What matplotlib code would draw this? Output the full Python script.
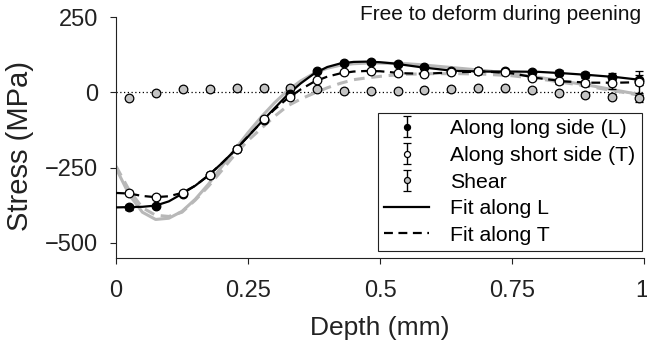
import matplotlib
matplotlib.use("Agg")
import matplotlib.pyplot as plt
from matplotlib.transforms import ScaledTranslation

plt.rcParams['font.family'] = ['Liberation Sans', 'DejaVu Sans']

# measurement depths (mm), 0.002 in steps
depth = [0.0254, 0.0762, 0.127, 0.1778, 0.2286, 0.2794, 0.3302, 0.381, 0.4318, 0.4826,
         0.5334, 0.5842, 0.635, 0.6858, 0.7366, 0.7874, 0.8382, 0.889, 0.9398, 0.9906]

stress_L = [-381, -376, -337, -273, -187, -91, -5, 71, 99, 101,
            95, 83, 71, 70, 70, 69, 65, 58, 52, 42]
err_L = [8, 5, 4, 4, 4, 4, 4, 4, 5, 5, 5, 5, 5, 5, 5, 6, 8, 9, 12, 16]

stress_T = [-334, -349, -334, -273, -187, -90, -14, 40, 67, 70,
            65, 62, 69, 70, 66, 47, 36, 32, 32, 34]
err_T = [5, 5, 5, 4, 4, 4, 4, 4, 4, 4, 4, 4, 4, 4, 5, 6, 8, 10, 22, 36]

shear = [-18, -1, 10, 12, 13, 16, 16, 10, 5, 4,
         6, 8, 10, 15, 15, 8, -2, -10, -14, -20]
err_S = [4, 4, 4, 4, 4, 4, 4, 4, 4, 4, 4, 4, 4, 4, 4, 5, 6, 7, 9, 12]

# fitted profiles
fit_x = [0, 0.025, 0.05, 0.075, 0.1, 0.125, 0.15, 0.175, 0.2, 0.225, 0.25, 0.275,
         0.3, 0.325, 0.35, 0.375, 0.4, 0.425, 0.45, 0.475, 0.5, 0.525, 0.55, 0.575,
         0.6, 0.625, 0.65, 0.7, 0.75, 0.8, 0.85, 0.9, 0.95, 1.0]
fit_L = [-382, -381, -380, -376, -362, -337, -310, -276, -236, -193, -147, -99,
         -53, -8, 30, 62, 84, 96, 101, 102, 100, 96, 90, 84,
         79, 74, 71, 69, 69, 68, 63, 57, 50, 40]
fit_T = [-334, -336, -344, -348, -345, -334, -310, -276, -236, -193, -146, -100,
         -57, -20, 10, 35, 52, 63, 69, 71, 70, 66, 63, 62,
         63, 65, 67, 69, 63, 47, 36, 32, 32, 34]
fit2_L = [-252, -340, -398, -422, -418, -395, -355, -305, -247, -190, -134, -82,
          -35, 6, 38, 63, 80, 90, 95, 97, 97, 96, 95, 92,
          88, 84, 80, 72, 62, 50, 36, 22, 6, -10]
fit2_T = [-245, -325, -383, -408, -412, -398, -358, -312, -260, -207, -160, -120,
          -80, -45, -22, -3, 15, 30, 42, 48, 53, 57, 60, 61,
          62, 62, 62, 60, 55, 45, 32, 18, 3, -12]

fig = plt.figure(figsize=(6.47, 3.46), dpi=100)
ax = fig.add_axes([0.1793, 0.2543, 0.8161, 0.6965])

ax.axhline(0, color='k', lw=0.9, ls=(0, (1, 2)), zorder=1)

grey = '#b8b8b8'
ax.plot(fit_x, fit2_L, color=grey, lw=2.2, zorder=2)
ax.plot(fit_x, fit2_T, color=grey, lw=2.2, ls=(0, (3.5, 2.2)), zorder=2)
l_fit, = ax.plot(fit_x, fit_L, color='k', lw=1.6, zorder=3, label='Fit along L')
t_fit, = ax.plot(fit_x, fit_T, color='k', lw=1.6, ls=(0, (4, 2.5)), zorder=3,
                 label='Fit along T')

eb_kw = dict(fmt='o', ms=6.2, mec='k', mew=0.9, ecolor='k', elinewidth=1,
             capsize=3, capthick=1)
sh = ax.errorbar(depth, shear, yerr=err_S, mfc='#c4c4c4', zorder=4, label='Shear', **eb_kw)
bl = ax.errorbar(depth, stress_L, yerr=err_L, mfc='k', zorder=5,
                 label='Along long side (L)', **eb_kw)
wh = ax.errorbar(depth, stress_T, yerr=err_T, mfc='white', zorder=6,
                 label='Along short side (T)', **eb_kw)

ax.set_xlim(0, 1)
ax.set_ylim(-550, 250)
ax.set_xticks([0, 0.25, 0.5, 0.75, 1])
ax.set_xticklabels(['0', '0.25', '0.5', '0.75', '1'])
ax.set_yticks([-500, -250, 0, 250])
ax.spines['top'].set_visible(False)
ax.spines['right'].set_visible(False)
for s in ['left', 'bottom']:
    ax.spines[s].set_linewidth(0.8)
    ax.spines[s].set_color('#222222')
ax.tick_params(direction='out', length=4, width=0.8, labelsize=17,
               colors='#222222', labelcolor='#222222')
ax.tick_params(axis='x', pad=12)
ax.tick_params(axis='y', pad=9)

# keep the last x label inside the figure
last = ax.get_xticklabels()[-1]
last.set_horizontalalignment('right')
last.set_transform(last.get_transform() + ScaledTranslation(3 / 72, 0, fig.dpi_scale_trans))

ax.set_xlabel('Depth (mm)', fontsize=19, color='#222222', labelpad=10)
ax.set_ylabel('Stress (MPa)', fontsize=21, color='#222222')
ax.yaxis.set_label_coords(-0.155, 0.463)

leg = ax.legend([bl, wh, sh, l_fit, t_fit],
                ['Along long side (L)', 'Along short side (T)', 'Shear',
                 'Fit along L', 'Fit along T'],
                loc='upper left', bbox_to_anchor=(0.496, 0.602), borderaxespad=0,
                fontsize=15.3, markerscale=0.7, handlelength=2.1, handletextpad=1.0,
                labelspacing=0.36, borderpad=0.3, fancybox=False, framealpha=1,
                edgecolor='#222222')
leg.get_frame().set_linewidth(0.8)

fig.text(0.991, 0.958, 'Free to deform during peening', ha='right', va='center',
         fontsize=15, color='#111111')

fig.savefig('out.png', dpi=100)
